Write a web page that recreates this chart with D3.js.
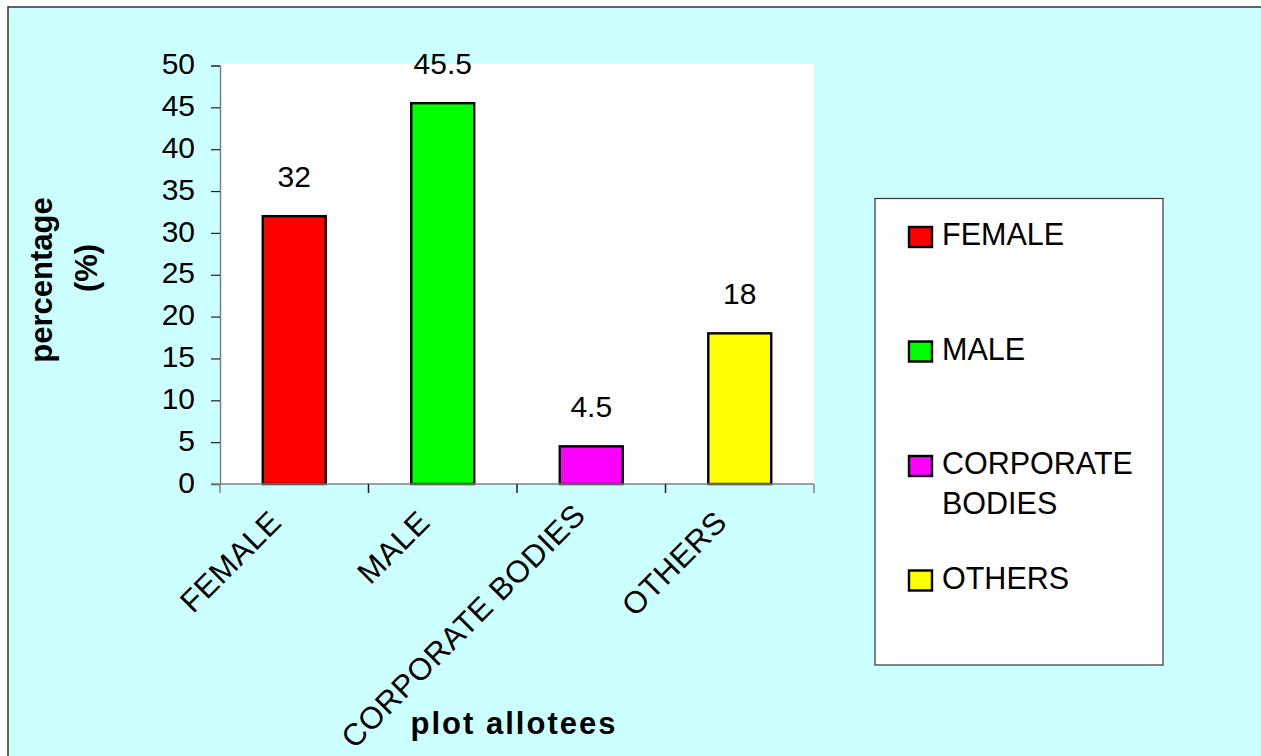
<!DOCTYPE html>
<html>
<head>
<meta charset="utf-8">
<script src="https://cdn.jsdelivr.net/npm/d3@7"></script>
<style>
  html, body { margin: 0; padding: 0; background: #ffffff; }
  svg { display: block; }
  text { font-family: Arial, "Liberation Sans", sans-serif; fill: #000; }
</style>
</head>
<body>
<svg id="chart" width="1261" height="756"></svg>
<script>
// Share of plot allotees by category (%)
const categories = ["FEMALE", "MALE", "CORPORATE BODIES", "OTHERS"];
const percentages = [32, 45.5, 4.5, 18];
const barColors = ["#ff0000", "#00ff00", "#ff00ff", "#ffff00"];
const legendLabels = [["FEMALE"], ["MALE"], ["CORPORATE", "BODIES"], ["OTHERS"]];
const yTicks = [0, 5, 10, 15, 20, 25, 30, 35, 40, 45, 50];

const svg = d3.select("#chart");
const W = 1261, H = 756;

// chart area background and frame
svg.append("rect")
  .attr("x", 8).attr("y", 7)
  .attr("width", W + 20).attr("height", H + 20)
  .attr("fill", "#ccffff")
  .attr("stroke", "#333")
  .attr("stroke-width", 1.5);

const plot = { left: 220, right: 814, top: 64, bottom: 484 };

const x = d3.scaleBand()
  .domain(categories)
  .range([plot.left, plot.right])
  .paddingInner(0.576)
  .paddingOuter(0.288);

const y = d3.scaleLinear()
  .domain([0, 50])
  .range([plot.bottom, 65.5]);

// plot area
svg.append("rect")
  .attr("x", plot.left).attr("y", plot.top)
  .attr("width", plot.right - plot.left)
  .attr("height", plot.bottom - plot.top)
  .attr("fill", "#ffffff");

// bars
svg.append("g").selectAll("rect")
  .data(categories)
  .join("rect")
  .attr("x", d => x(d))
  .attr("y", (d, i) => y(percentages[i]))
  .attr("width", x.bandwidth())
  .attr("height", (d, i) => y(0) - y(percentages[i]))
  .attr("fill", (d, i) => barColors[i])
  .attr("stroke", "#000")
  .attr("stroke-width", 2.4);

// value labels
svg.append("g").selectAll("text")
  .data(categories)
  .join("text")
  .attr("x", d => x(d) + x.bandwidth() / 2)
  .attr("y", (d, i) => y(percentages[i]) - 29)
  .attr("text-anchor", "middle")
  .attr("font-size", 30)
  .text((d, i) => percentages[i]);

// y axis
const yAxis = svg.append("g")
  .attr("transform", `translate(${plot.left},0)`)
  .call(d3.axisLeft(y).tickValues(yTicks).tickSize(9).tickPadding(16).tickFormat(d3.format("d")));
yAxis.select(".domain").attr("stroke", "#808080").attr("stroke-width", 1.5);
yAxis.selectAll(".tick line").attr("stroke", "#222").attr("stroke-width", 1.2);
yAxis.selectAll(".tick text")
  .attr("font-size", 30)
  .attr("font-family", "Arial, 'Liberation Sans', sans-serif")
  .attr("fill", "#000")
  .attr("dy", "0.27em");

// x axis line with category boundary ticks
const xAxisG = svg.append("g");
xAxisG.append("line")
  .attr("x1", plot.left - 9).attr("x2", plot.right)
  .attr("y1", y(0)).attr("y2", y(0))
  .attr("stroke", "#808080").attr("stroke-width", 1.5);
const boundaries = categories.map(d => x(d) - x.step() * x.paddingInner() / 2)
  .concat([plot.right]);
xAxisG.selectAll("line.bt")
  .data(boundaries)
  .join("line")
  .attr("class", "bt")
  .attr("x1", d => d).attr("x2", d => d)
  .attr("y1", y(0)).attr("y2", y(0) + 9)
  .attr("stroke", (d, i) => (i === 0 || i === boundaries.length - 1) ? "#808080" : "#222")
  .attr("stroke-width", 1.5);

// rotated category labels, clipped to the area below the axis
svg.append("clipPath").attr("id", "belowAxis")
  .append("rect").attr("x", 0).attr("y", 501).attr("width", W).attr("height", H);

const labelG = svg.append("g").attr("clip-path", "url(#belowAxis)");
const diag = Math.SQRT1_2;
const maxStartY = 750;
labelG.selectAll("text")
  .data(categories)
  .join("text")
  .attr("font-size", 31)
  .attr("letter-spacing", 0.6)
  .attr("text-anchor", "end")
  .text(d => d)
  .each(function (d) {
    const len = this.getComputedTextLength();
    let px = x(d) + x.bandwidth() / 2 - 11;
    let py = 524;
    // long labels slide up along their baseline so the start stays in view
    const startY = py + len * diag;
    if (startY > maxStartY) {
      const shift = startY - maxStartY;
      px += shift;
      py -= shift;
    }
    d3.select(this).attr("transform", `translate(${px},${py}) rotate(-45)`);
  });

// axis titles
svg.append("text")
  .attr("x", (plot.left + plot.right) / 2 - 3).attr("y", 734)
  .attr("text-anchor", "middle")
  .attr("font-size", 31)
  .attr("letter-spacing", 2)
  .attr("font-weight", "bold")
  .text("plot allotees");

svg.append("text")
  .attr("transform", "translate(52,280) rotate(-90)")
  .attr("text-anchor", "middle")
  .attr("font-size", 31)
  .attr("font-weight", "bold")
  .text("percentage");
svg.append("text")
  .attr("transform", "translate(97,268) rotate(-90)")
  .attr("text-anchor", "middle")
  .attr("font-size", 31)
  .attr("font-weight", "bold")
  .text("(%)");

// legend
const legend = svg.append("g");
legend.append("rect")
  .attr("x", 875).attr("y", 198.5)
  .attr("width", 288).attr("height", 466.5)
  .attr("fill", "#ffffff")
  .attr("stroke", "#333")
  .attr("stroke-width", 1.2);

const entry = legend.selectAll("g.entry")
  .data(legendLabels)
  .join("g")
  .attr("class", "entry")
  .attr("transform", (d, i) => `translate(0,${245 + i * 114.5})`);
entry.append("rect")
  .attr("x", 909).attr("y", -18)
  .attr("width", 23).attr("height", 20)
  .attr("fill", (d, i) => barColors[i])
  .attr("stroke", "#000")
  .attr("stroke-width", 2.4);
entry.append("text")
  .attr("font-size", 30.5)
  .selectAll("tspan")
  .data(d => d)
  .join("tspan")
  .attr("x", 942)
  .attr("y", (d, j) => j * 40)
  .text(d => d);
</script>
</body>
</html>
